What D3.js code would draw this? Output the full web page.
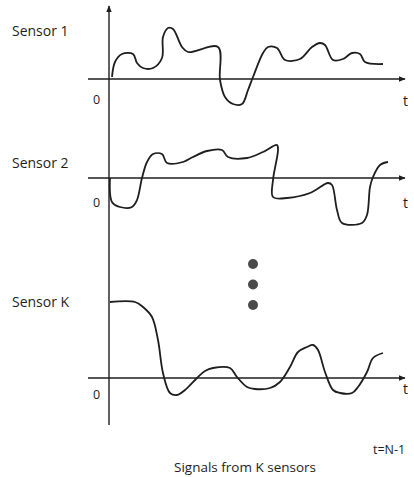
<!DOCTYPE html>
<html><head><meta charset="utf-8">
<script src="https://cdn.jsdelivr.net/npm/d3@7"></script>
<style>body{margin:0;background:#fff}svg{display:block}</style>
</head><body>
<script>
const sensorNames = ["Sensor 1", "Sensor 2", "Sensor K"];
const sensor1 = [[2,2],[5,17],[12,25],[23,25],[27,16],[33,11],[43,11],[52,21],[53,42],[58,51],[63,50],[72,32],[78,27],[108,32],[110,-1],[115,-18],[123,-25],[132,-25],[138,-11],[143,2],[153,26],[158,32],[167,31],[175,19],[190,20],[202,32],[210,36],[215,34],[223,19],[233,20],[242,26],[250,25],[255,17],[273,15]];
const sensor2 = [[0,0],[2,-24],[10,-29],[22,-29],[27,-22],[32,0],[37,16],[43,24],[52,24],[57,15],[73,16],[83,21],[97,27],[112,28],[118,21],[137,20],[153,26],[167,33],[168,28],[163,-2],[163,-19],[177,-20],[200,-15],[218,-5],[222,-7],[227,-32],[232,-45],[252,-45],[257,-37],[260,-9],[263,1],[270,13],[278,16]];
const sensorK = [[0,76],[25,76],[33,71],[42,61],[48,38],[53,5],[60,-15],[67,-17],[75,-12],[87,0],[95,7],[103,10],[120,10],[127,1],[137,-9],[145,-11],[160,-10],[170,-4],[180,11],[188,26],[197,31],[203,33],[208,28],[215,6],[223,-12],[230,-15],[242,-15],[248,-9],[257,6],[263,20],[273,25]];
const series = [sensor1, sensor2, sensorK];
const tLabel = "t";
const zeroLabel = "0";
const endLabel = "t=N-1";
const title = "Signals from K sensors";
const dotCount = [0, 1, 2];

const W = 414, H = 477;
const svg = d3.select("body").append("svg").attr("width", W).attr("height", H);
const ink = "#1e1e1e";
const font = "'Open Sans', Lato, sans-serif";

const baselines = [79, 178, 378];
const nameY = [36, 168, 307];
const zeroY = [104, 207, 399];
const tY = [106, 208, 394];
const x = d3.scaleLinear().domain([0, 273]).range([110, 383]);
const axisX0 = 88, axisX1 = 405, vx = 109;

svg.append("defs").append("marker").attr("id","arr").attr("viewBox","0 0 10 10")
  .attr("refX",9).attr("refY",5).attr("markerWidth",5).attr("markerHeight",5).attr("orient","auto-start-reverse")
  .append("path").attr("d","M0,1 L10,5 L0,9 z").attr("fill",ink);

svg.append("line").attr("x1",vx).attr("x2",vx).attr("y1",425).attr("y2",6)
  .attr("stroke",ink).attr("stroke-width",1.4).attr("marker-end","url(#arr)");

const line = d3.line().curve(d3.curveCatmullRom.alpha(0.5));

series.forEach((data, i) => {
  const b = baselines[i];
  const y = d3.scaleLinear().domain([-50, 80]).range([b + 50, b - 80]);
  svg.append("line").attr("x1",axisX0).attr("x2",axisX1).attr("y1",b).attr("y2",b)
    .attr("stroke",ink).attr("stroke-width",1.4).attr("marker-end","url(#arr)");
  svg.append("path").attr("d", line(data.map(d => [x(d[0]), y(d[1])])))
    .attr("fill","none").attr("stroke",ink).attr("stroke-width",1.8).attr("stroke-linejoin","round");
  svg.append("text").attr("x",12).attr("y", nameY[i]).text(sensorNames[i])
    .attr("font-family",font).attr("font-size",14).attr("fill",ink);
  svg.append("text").attr("x",93).attr("y", zeroY[i]).text(zeroLabel)
    .attr("font-family",font).attr("font-size",12.5).attr("fill",ink);
  svg.append("text").attr("x",403).attr("y", tY[i]).text(tLabel)
    .attr("font-family",font).attr("font-size",14).attr("fill",ink);
});

svg.selectAll("circle.dot").data(dotCount).enter().append("circle")
  .attr("cx",253).attr("cy",d => 264 + d*20.5).attr("r",5).attr("fill","#4a4a4a");

svg.append("text").attr("x",373).attr("y",454).text(endLabel)
  .attr("font-family",font).attr("font-size",12.5).attr("fill",ink);
svg.append("text").attr("x",245).attr("y",472).attr("text-anchor","middle").text(title)
  .attr("font-family",font).attr("font-size",13.5).attr("fill",ink);
</script>
</body></html>
